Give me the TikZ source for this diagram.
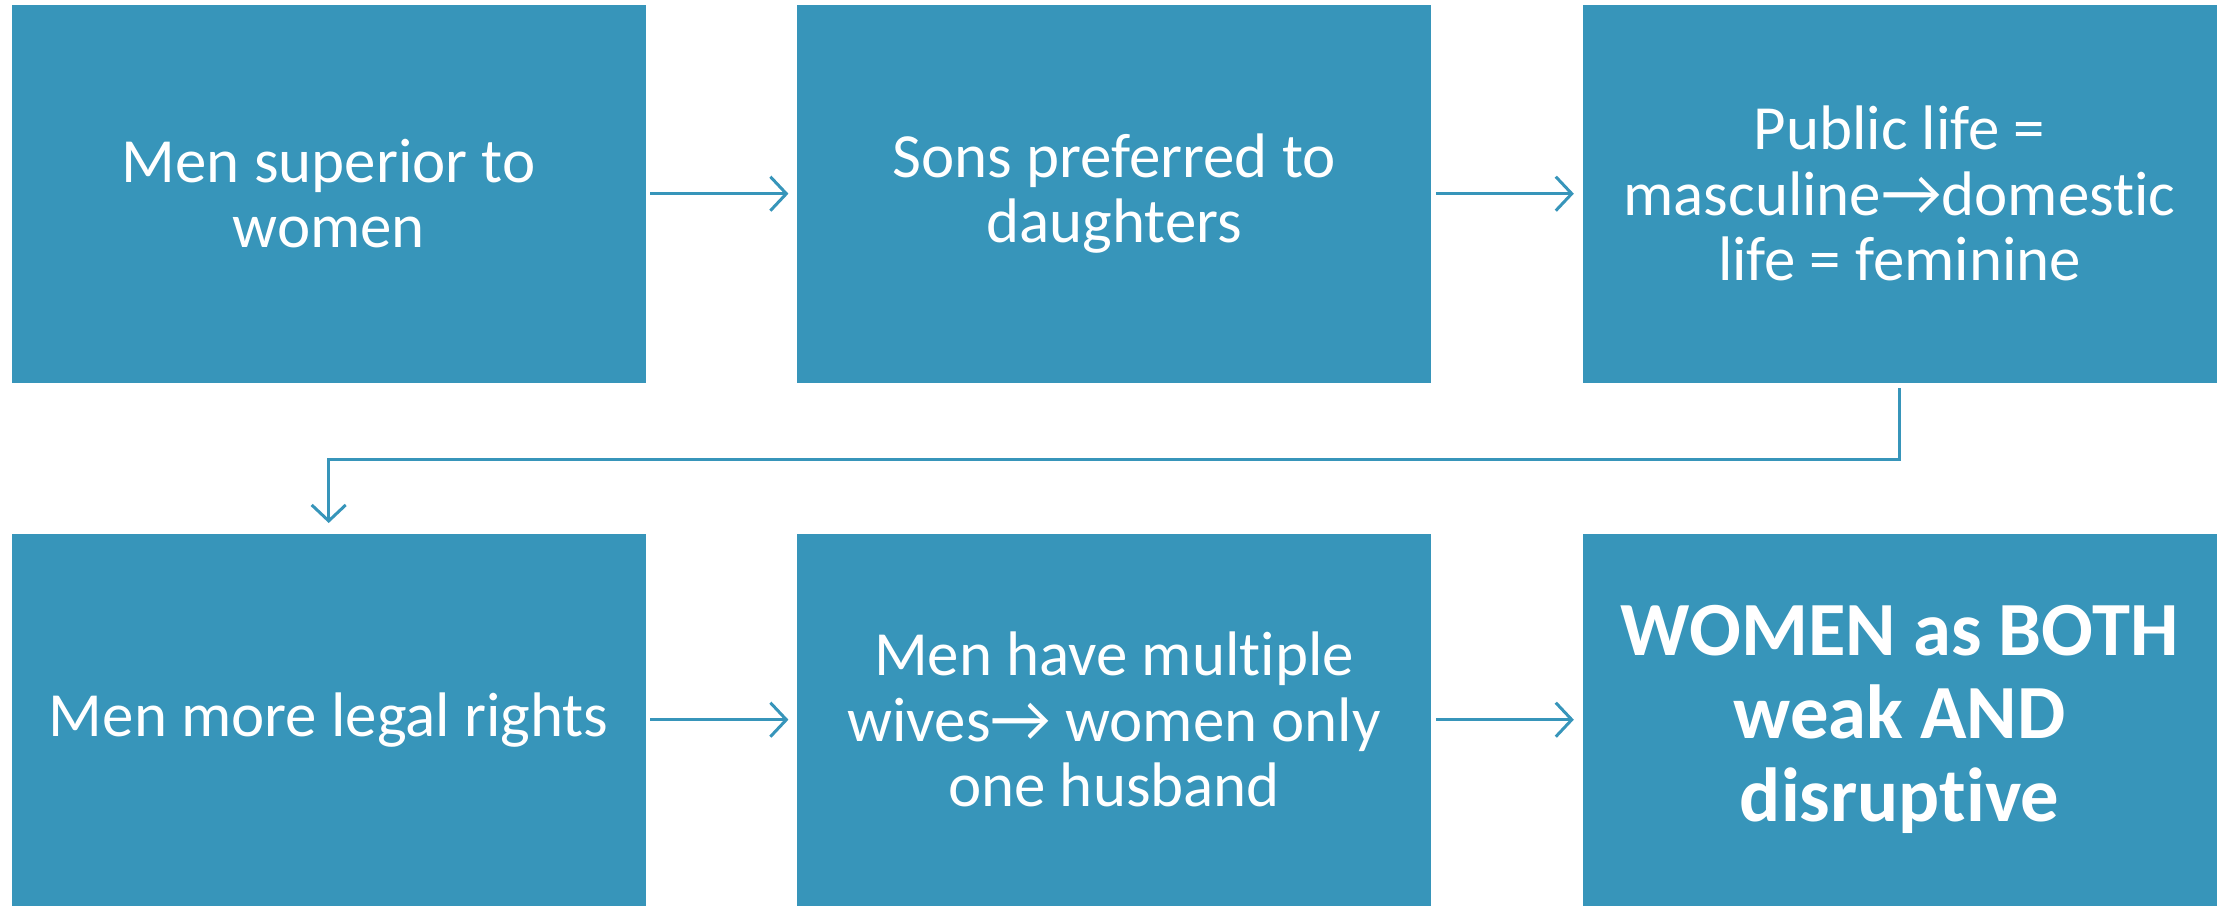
\documentclass[tikz,border=0pt]{standalone}
\usepackage{fontspec}
\setmainfont{Carlito}[Ligatures={NoCommon}]
\usetikzlibrary{arrows.meta,positioning}
\definecolor{boxblue}{HTML}{3795BA}
\tikzstyle{stage}=[fill=boxblue, text=white, align=center, inner sep=0pt,
  minimum width=6.34cm, minimum height=3.78cm, font=\fontsize{17.9}{18.6}\selectfont]
\tikzstyle{arrow}=[draw=boxblue, line width=0.85pt,
  -{Straight Barb[length=0.16cm, width=0.34cm, line width=0.85pt]}]

\begin{document}
\begin{tikzpicture}[node distance=1.5cm]
\useasboundingbox (0,0) rectangle (22.18,-9.07);

\node (superior) [stage, anchor=north west] at (0.11,-0.04) {Men superior to\\women};
\node (sons) [stage, right=of superior] {Sons preferred to\\daughters};
\node (public) [stage, right=of sons] {Public life =\\masculine{\fontsize{19}{18.6}\selectfont→}domestic\\life = feminine};
\node (rights) [stage, minimum height=3.72cm, anchor=north west] at (0.11,-5.33) {Men more legal rights};
\node (wives) [stage, minimum height=3.72cm, right=of rights] {Men have multiple\\wives{\fontsize{19}{18.6}\selectfont→} women only\\one husband};
\node (both) [stage, minimum height=3.72cm, right=of wives,
  font=\fontsize{21.8}{23.6}\selectfont\bfseries] {WOMEN as BOTH\\weak AND\\disruptive};

\draw [arrow, shorten <=0.04cm, shorten >=0.08cm] (superior) -- (sons);
\draw [arrow, shorten <=0.04cm, shorten >=0.08cm] (sons) -- (public);
\draw [arrow, shorten <=0.05cm, shorten >=0.1cm] (public.south) -- ++(0,-0.76) -| (rights.north);
\draw [arrow, shorten <=0.04cm, shorten >=0.08cm] (rights) -- (wives);
\draw [arrow, shorten <=0.04cm, shorten >=0.08cm] (wives) -- (both);

\end{tikzpicture}
\end{document}
